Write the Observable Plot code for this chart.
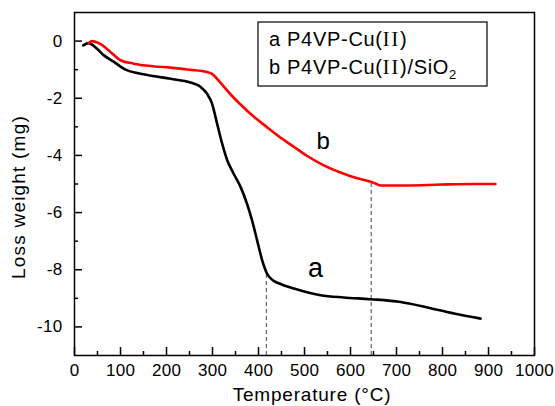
<!DOCTYPE html>
<html><head><meta charset="utf-8">
<script src="https://cdn.jsdelivr.net/npm/d3@7"></script>
<script src="https://cdn.jsdelivr.net/npm/@observablehq/plot@0.6"></script>
<style>
html,body{margin:0;padding:0;background:#fff;}
#chart svg{display:block;}
</style></head>
<body><div id="chart"></div>
<script>
// Curve a: P4VP-Cu(II)
const tempA = [19, 31, 49, 64, 85, 111, 136, 170, 209, 252, 274, 288, 299, 310, 321, 332, 346, 361, 375, 386, 397, 408, 419, 433, 448, 477, 535, 585, 643, 709, 767, 825, 883];
const lossA = [-0.15, -0.07, -0.27, -0.5, -0.72, -1.0, -1.12, -1.22, -1.32, -1.45, -1.6, -1.84, -2.19, -2.89, -3.59, -4.17, -4.64, -5.1, -5.69, -6.27, -6.97, -7.67, -8.15, -8.39, -8.5, -8.66, -8.89, -8.97, -9.03, -9.13, -9.32, -9.53, -9.71];
// Curve b: P4VP-Cu(II)/SiO2
const tempB = [31, 38, 56, 78, 100, 129, 170, 209, 250, 288, 299, 317, 339, 361, 390, 419, 448, 470, 506, 542, 578, 615, 651, 665, 723, 796, 868, 915];
const lossB = [-0.07, 0, -0.1, -0.38, -0.67, -0.79, -0.88, -0.93, -1.0, -1.08, -1.15, -1.45, -1.86, -2.22, -2.65, -3.02, -3.38, -3.62, -4.02, -4.35, -4.6, -4.8, -4.96, -5.05, -5.05, -5.02, -5.0, -5.0];
// dashed drop lines
const dropTemps = [417, 645];
const dropLoss = [-8.15, -4.95];
// curve labels
const curveNames = ["a", "b"];
const curveLabelTemps = [524, 541];
const curveLabelLoss = [-7.95, -3.49];
const curveLabelSizes = [27, 24];
// ticks
const xMajor = [0, 100, 200, 300, 400, 500, 600, 700, 800, 900, 1000];
const xMinor = [50, 150, 250, 350, 450, 550, 650, 750, 850, 950];
const yMajor = [0, -2, -4, -6, -8, -10];
const yMinor = [-1, -3, -5, -7, -9];
const xTitle = "Temperature (°C)";
const yTitle = "Loss weight (mg)";

const seriesA = tempA.map((t, i) => ({t, w: lossA[i]}));
const seriesB = tempB.map((t, i) => ({t, w: lossB[i]}));
const drops = dropTemps.map((t, i) => ({t, w: dropLoss[i]}));
const labels = curveNames.map((n, i) => ({n, t: curveLabelTemps[i], w: curveLabelLoss[i], s: curveLabelSizes[i]}));

const FONT = "'Liberation Sans', Arial, Helvetica, sans-serif";
const SERIF = "'Liberation Serif', 'Times New Roman', serif";

const chart = Plot.plot({
  width: 555, height: 406,
  marginLeft: 74, marginRight: 21, marginTop: 12, marginBottom: 51,
  style: {fontFamily: FONT, fontSize: "17px", color: "#000", background: "#fff"},
  x: {domain: [0, 1000]},
  y: {domain: [-11, 1]},
  marks: [
    Plot.ruleX(drops, {x: "t", y1: -11, y2: "w", stroke: "#444", strokeWidth: 1, strokeDasharray: "4,3"}),
    Plot.line(seriesA, {x: "t", y: "w", stroke: "#000", strokeWidth: 2.6, curve: "monotone-x"}),
    Plot.line(seriesB, {x: "t", y: "w", stroke: "#ff0000", strokeWidth: 2.6, curve: "monotone-x"}),
    Plot.text(labels, {x: "t", y: "w", text: "n", fontSize: "s", textAnchor: "middle", fill: "#000"}),
    Plot.frame({stroke: "#000", strokeWidth: 1.5}),
    // inward ticks: drawn outward then shifted inside by their length
    Plot.axisX(xMajor, {tickSize: 8, dy: -8, strokeWidth: 1.5, tickFormat: () => "", label: null}),
    Plot.axisX(xMinor, {tickSize: 4, dy: -4, strokeWidth: 1.5, tickFormat: () => "", label: null}),
    Plot.axisX(xMajor, {tickSize: 0, tickPadding: 8, tickFormat: d => String(d), label: null}),
    Plot.axisY(yMajor, {tickSize: 8, dx: 8, strokeWidth: 1.5, tickFormat: () => "", label: null}),
    Plot.axisY(yMinor, {tickSize: 4, dx: 4, strokeWidth: 1.5, tickFormat: () => "", label: null}),
    Plot.axisY(yMajor, {tickSize: 0, tickPadding: 12, tickFormat: d => String(d), label: null})
  ]
});
document.getElementById("chart").appendChild(chart);

const svg = d3.select(chart);
svg.selectAll("text").style("letter-spacing", "0.3px");

// axis titles
svg.append("text")
  .attr("x", 312).attr("y", 401)
  .attr("text-anchor", "middle")
  .attr("font-family", FONT).attr("font-size", 19)
  .style("letter-spacing", "0.8px")
  .attr("fill", "#000")
  .text(xTitle);
svg.append("text")
  .attr("transform", "translate(25,197) rotate(-90)")
  .attr("text-anchor", "middle")
  .attr("font-family", FONT).attr("font-size", 19)
  .style("letter-spacing", "1.2px")
  .attr("fill", "#000")
  .text(yTitle);

// legend box
const leg = svg.append("g").attr("font-family", FONT).attr("font-size", 20).attr("fill", "#000").attr("text-anchor", "start");
leg.append("rect").attr("x", 258).attr("y", 22).attr("width", 229).attr("height", 64)
  .attr("fill", "#fff").attr("stroke", "#000").attr("stroke-width", 1.2);
const t1 = leg.append("text").attr("x", 269).attr("y", 46).attr("text-anchor", "start").style("letter-spacing", "0.7px");
t1.append("tspan").text("a P4VP-Cu(");
t1.append("tspan").attr("font-family", SERIF).style("letter-spacing", "2px").text("II");
t1.append("tspan").text(")");
const t2 = leg.append("text").attr("x", 269).attr("y", 74).attr("text-anchor", "start").style("letter-spacing", "0.7px");
t2.append("tspan").text("b P4VP-Cu(");
t2.append("tspan").attr("font-family", SERIF).style("letter-spacing", "2px").text("II");
t2.append("tspan").text(")/SiO");
t2.append("tspan").attr("font-size", 13).attr("dy", 5).text("2");
</script>
</body></html>
